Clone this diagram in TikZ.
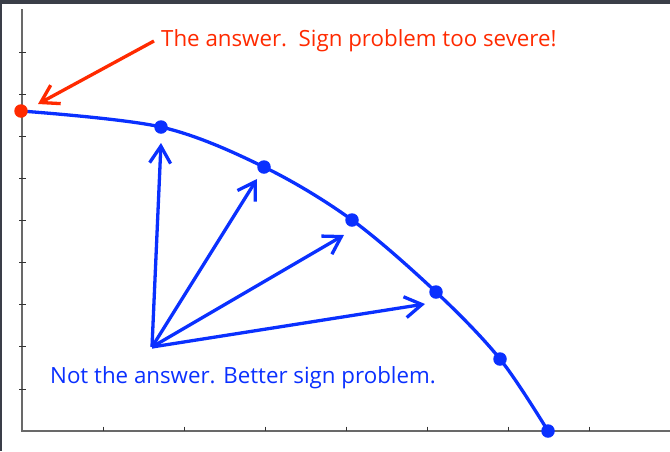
\documentclass[tikz,border=0pt]{standalone}
\usepackage{fontspec}
\setmainfont{Open Sans}
\usetikzlibrary{arrows.meta}
\definecolor{kblue}{RGB}{10,48,255}
\definecolor{kred}{RGB}{255,42,0}
\definecolor{framegray}{RGB}{58,62,72}
\definecolor{axisgray}{RGB}{105,105,105}
\tikzset{
  axisline/.style={axisgray, line width=2pt},
  tickmark/.style={black!80, line width=0.9pt},
  curveline/.style={kblue, line width=3.3pt},
  dotmark/.style={circle, fill=#1, inner sep=0pt, minimum size=13.5pt},
  vecarrow/.style={kblue, line width=3.3pt, line join=miter,
    -{Straight Barb[length=17pt, width=21pt]}},
  redarrow/.style={kred, line width=3.3pt, line join=miter,
    -{Straight Barb[length=17pt, width=21pt]}},
  lbl/.style={anchor=base west, inner sep=0pt}
}
\begin{document}
\begin{tikzpicture}[x=1pt, y=-1pt]
\useasboundingbox (0,0) rectangle (670,451);
\fill[white] (0,0) rectangle (670,451);
\fill[framegray] (0,0) rectangle (670,3.5);
\fill[framegray] (0,0) rectangle (2,451);
% axes
\coordinate (ytop) at (21.5,9);
\coordinate (orig) at (21.5,431);
\coordinate (xend) at (670,431);
\draw[axisline] (ytop) -- (orig) -- (xend);
\foreach \y in {52,94,136,178,220,262,304,346,389}
  \draw[tickmark] (19,\y) -- (25.5,\y);
\foreach \x in {103,184,265,346,427,508,589}
  \draw[tickmark] (\x,426.5) -- (\x,431);
% curve
\draw[curveline] plot[smooth, tension=0.55] coordinates
  {(21,111) (161,127) (264,167) (352,220) (436,292) (500,359) (548,431)};
\node[dotmark=kblue] (p1) at (161,127) {};
\node[dotmark=kblue] (p2) at (264,167) {};
\node[dotmark=kblue] (p3) at (352,220) {};
\node[dotmark=kblue] (p4) at (436,292) {};
\node[dotmark=kblue] (p5) at (500,359) {};
\node[dotmark=kblue] (p6) at (548,431) {};
\node[dotmark=kred] (ans) at (21,111) {};
% vectors
\coordinate (O) at (152,347);
\coordinate (t1) at (161,143);
\coordinate (t2) at (257,179);
\coordinate (t3) at (344,235);
\coordinate (t4) at (425,304);
\draw[vecarrow] (O) -- (t1);
\draw[vecarrow] (O) -- (t2);
\draw[vecarrow] (O) -- (t3);
\draw[vecarrow] (O) -- (t4);
% red annotation
\coordinate (rs) at (154,41);
\coordinate (rt) at (38,104);
\draw[redarrow] (rs) -- (rt);
\node[lbl, text=kred, font=\fontsize{22.3}{24}\selectfont] (redtext) at (161,46.5) {The answer.\ \ Sign problem too severe!};
\node[lbl, text=kblue, font=\fontsize{22.3}{24}\selectfont] (bluetext) at (50,383.3) {Not the answer. Better sign problem.};
\end{tikzpicture}
\end{document}
